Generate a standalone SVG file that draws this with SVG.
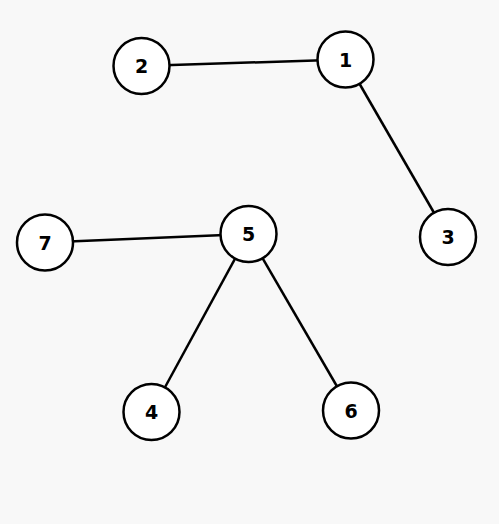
<svg xmlns="http://www.w3.org/2000/svg" width="499" height="524" viewBox="0 0 499 524">
<style>
.n circle{fill:#fff;stroke:#000;stroke-width:2.5}
.n text{font-family:"DejaVu Sans",sans-serif;font-weight:bold;font-size:19px;text-anchor:middle;dominant-baseline:central;fill:#000}
.e line{stroke:#000;stroke-width:2.5}
</style>
<rect width="499" height="524" fill="#f8f8f8"/>
<g id="edges" class="e">
<line x1="141.5" y1="66" x2="345.5" y2="59.5"/>
<line x1="345.5" y1="59.5" x2="448" y2="237"/>
<line x1="45" y1="242.5" x2="248.5" y2="234"/>
<line x1="248.5" y1="234" x2="151.5" y2="412"/>
<line x1="248.5" y1="234" x2="351" y2="410.5"/>
</g>
<g id="node1" class="n"><circle cx="345.5" cy="59.5" r="28"/><text x="345.5" y="59.5">1</text></g>
<g id="node2" class="n"><circle cx="141.5" cy="66" r="28"/><text x="141.5" y="66">2</text></g>
<g id="node3" class="n"><circle cx="448" cy="237" r="28"/><text x="448" y="237">3</text></g>
<g id="node5" class="n"><circle cx="248.5" cy="234" r="28"/><text x="248.5" y="234">5</text></g>
<g id="node7" class="n"><circle cx="45" cy="242.5" r="28"/><text x="45" y="242.5">7</text></g>
<g id="node4" class="n"><circle cx="151.5" cy="412" r="28"/><text x="151.5" y="412">4</text></g>
<g id="node6" class="n"><circle cx="351" cy="410.5" r="28"/><text x="351" y="410.5">6</text></g>
</svg>
